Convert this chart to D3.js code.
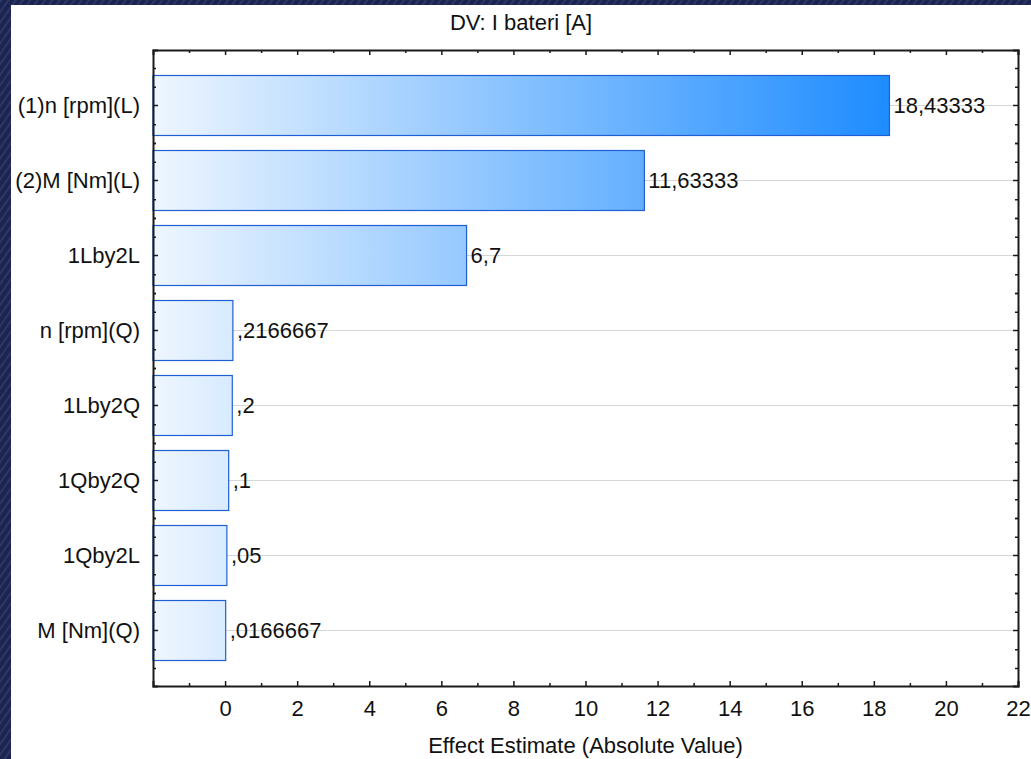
<!DOCTYPE html>
<html>
<head>
<meta charset="utf-8">
<script src="https://cdn.jsdelivr.net/npm/d3@7"></script>
<style>
  html, body { margin: 0; padding: 0; background: #1b2450; }
  svg { display: block; }
  text { font-family: "Liberation Sans", Arial, sans-serif; fill: #111; }
</style>
</head>
<body>
<svg id="chart" width="1031" height="759"></svg>
<script>
// Effect terms, ordered by absolute effect
const terms = ["(1)n [rpm](L)", "(2)M [Nm](L)", "1Lby2L", "n [rpm](Q)", "1Lby2Q", "1Qby2Q", "1Qby2L", "M [Nm](Q)"];
const effects = [18.43333, 11.63333, 6.7, 0.2166667, 0.2, 0.1, 0.05, 0.0166667];
const majorTicks = [0, 2, 4, 6, 8, 10, 12, 14, 16, 18, 20, 22];
const minorTicks = [-1, 1, 3, 5, 7, 9, 11, 13, 15, 17, 19, 21];
const titleText = "DV: I bateri [A]";
const xTitle = "Effect Estimate (Absolute Value)";

const svg = d3.select("#chart");
const W = 1031, H = 759;
const sheet = { left: 11, top: 5 };
const plot = { left: 153, right: 1018, top: 50, bottom: 686 };
const FS = 22;

// textured dark backdrop
const defs = svg.append("defs");
const pat = defs.append("pattern")
  .attr("id", "denim").attr("patternUnits", "userSpaceOnUse")
  .attr("width", 6).attr("height", 6).attr("patternTransform", "rotate(35)");
pat.append("rect").attr("width", 6).attr("height", 6).attr("fill", "#1c2552");
pat.append("rect").attr("width", 2).attr("height", 6).attr("fill", "#2d3764");
svg.append("rect").attr("width", W).attr("height", H).attr("fill", "url(#denim)");

// white sheet
svg.append("rect").attr("x", sheet.left).attr("y", sheet.top)
  .attr("width", W - sheet.left).attr("height", H - sheet.top).attr("fill", "#fff");

const x = d3.scaleLinear().domain([-2, 22]).range([plot.left, plot.right]);
const y = d3.scaleBand().domain(terms).range([plot.top, plot.bottom])
  .paddingInner(0.2).paddingOuter(0.34);

// bar fill runs from the left edge to the largest effect
const grad = defs.append("linearGradient")
  .attr("id", "barFill").attr("gradientUnits", "userSpaceOnUse")
  .attr("x1", x(-2)).attr("x2", x(d3.max(effects))).attr("y1", 0).attr("y2", 0);
grad.append("stop").attr("offset", 0).attr("stop-color", "#eef6ff");
grad.append("stop").attr("offset", 1).attr("stop-color", "#1e8cff");

const center = d => y(d) + y.bandwidth() / 2;

// horizontal grid through each term
svg.append("g").selectAll("line").data(terms).join("line")
  .attr("x1", plot.left).attr("x2", plot.right)
  .attr("y1", center).attr("y2", center)
  .attr("stroke", "#d6d6d6").attr("stroke-width", 1);

// bars
svg.append("g").selectAll("rect").data(terms).join("rect")
  .attr("x", x(-2))
  .attr("y", d => y(d))
  .attr("width", (d, i) => x(effects[i]) - x(-2))
  .attr("height", y.bandwidth())
  .attr("fill", "url(#barFill)")
  .attr("stroke", "#1f5fd6").attr("stroke-width", 1.2);

// value labels in decimal-comma form
const fmtVal = v => String(v).replace(".", ",").replace(/^0,/, ",");
svg.append("g").selectAll("text").data(terms).join("text")
  .attr("x", (d, i) => x(effects[i]) + 4)
  .attr("y", center)
  .attr("dy", "0.35em")
  .attr("font-size", FS)
  .text((d, i) => fmtVal(effects[i]));

// frame axes
const axisStyle = g => {
  g.select(".domain").attr("stroke", "#1a1a1a").attr("stroke-width", 2);
  g.selectAll(".tick line").attr("stroke", "#1a1a1a").attr("stroke-width", 1.5);
};
const labelStyle = g => g.selectAll(".tick text").attr("font-size", FS).attr("fill", "#111")
  .style("font-family", '"Liberation Sans", Arial, sans-serif');

svg.append("g").attr("transform", `translate(0,${plot.bottom})`)
  .call(d3.axisBottom(x).tickValues(majorTicks).tickSize(-5).tickPadding(14).tickFormat(d3.format("d")))
  .call(axisStyle).call(labelStyle);
svg.append("g").attr("transform", `translate(0,${plot.bottom})`)
  .call(d3.axisBottom(x).tickValues(minorTicks).tickSize(-3).tickFormat(""))
  .call(axisStyle).call(g => g.select(".domain").remove());

svg.append("g").attr("transform", `translate(0,${plot.top})`)
  .call(d3.axisTop(x).tickValues(majorTicks).tickSize(-5).tickFormat(""))
  .call(axisStyle);
svg.append("g").attr("transform", `translate(0,${plot.top})`)
  .call(d3.axisTop(x).tickValues(minorTicks).tickSize(-3).tickFormat(""))
  .call(axisStyle).call(g => g.select(".domain").remove());

// vertical axes: major ticks at each term, minor at quarter steps
const step = y.step();
const minorY = [];
terms.forEach(t => [-0.5, -0.25, 0.25, 0.5].forEach(f => minorY.push(center(t) + f * step)));
const yPos = d3.scaleIdentity().domain([plot.top, plot.bottom]);

svg.append("g").attr("transform", `translate(${plot.left},0)`)
  .call(d3.axisLeft(y).tickSize(-5).tickPadding(13))
  .call(axisStyle).call(labelStyle);
svg.append("g").attr("transform", `translate(${plot.left},0)`)
  .call(d3.axisLeft(yPos).tickValues(minorY).tickSize(-3).tickFormat(""))
  .call(axisStyle).call(g => g.select(".domain").remove());

svg.append("g").attr("transform", `translate(${plot.right},0)`)
  .call(d3.axisRight(y).tickSize(-5).tickFormat(""))
  .call(axisStyle);
svg.append("g").attr("transform", `translate(${plot.right},0)`)
  .call(d3.axisRight(yPos).tickValues(minorY).tickSize(-3).tickFormat(""))
  .call(axisStyle).call(g => g.select(".domain").remove());

// titles
svg.append("text").attr("x", (sheet.left + W) / 2).attr("y", 30)
  .attr("text-anchor", "middle").attr("font-size", FS).text(titleText);
svg.append("text").attr("x", (plot.left + plot.right) / 2).attr("y", 753)
  .attr("text-anchor", "middle").attr("font-size", FS).text(xTitle);
</script>
</body>
</html>
